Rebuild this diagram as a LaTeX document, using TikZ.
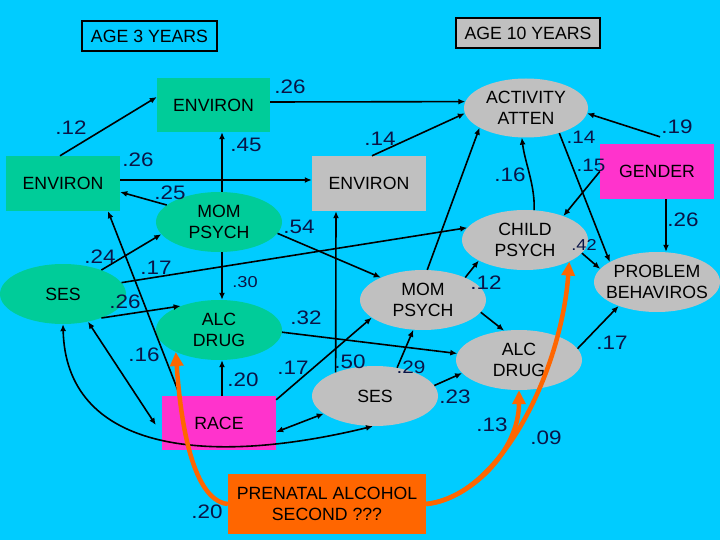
\documentclass[tikz,border=0pt]{standalone}
\usepackage{fontspec}
\setmainfont{Liberation Sans}
\newfontfamily\labfont[FakeStretch=1.15]{Liberation Sans}
\usetikzlibrary{shapes.geometric,arrows.meta}
\definecolor{bg}{RGB}{0,204,255}
\definecolor{grn}{RGB}{0,204,153}
\definecolor{gry}{RGB}{192,192,192}
\definecolor{mag}{RGB}{255,51,204}
\definecolor{org}{RGB}{255,102,0}
\definecolor{lbl}{RGB}{10,20,70}
\newcommand{\nfont}{\fontsize{17.7}{21}\selectfont}
\newcommand{\lfont}{\labfont\fontsize{19.5}{20}\selectfont}
\newcommand{\mfont}{\labfont\fontsize{18}{19}\selectfont}
\newcommand{\sfont}{\labfont\fontsize{15.8}{17}\selectfont}
\begin{document}
\begin{tikzpicture}[x=1pt,y=-1pt,
 rbox/.style={rectangle, inner sep=0pt, align=center, font=\nfont, minimum width=114pt, minimum height=55pt},
 ell/.style={ellipse, inner sep=0pt, align=center, font=\nfont, minimum width=126pt, minimum height=60pt},
 conn/.style={line width=1.6pt, -{Latex[length=7pt,width=6pt]}},
 dconn/.style={line width=1.6pt, {Latex[length=7pt,width=6pt]}-{Latex[length=7pt,width=6pt]}},
 oconn/.style={draw=org, line width=4.5pt, -{Triangle[length=14pt,width=13pt]}},
 lab/.style={font=\lfont, text=lbl, inner sep=0pt},
 mlab/.style={font=\mfont, text=lbl, inner sep=0pt},
 slab/.style={font=\sfont, text=lbl, inner sep=0pt}]
\fill[bg] (0,0) rectangle (720,540);
\useasboundingbox (0,0) rectangle (720,540);

% nodes
\node[rbox, draw, line width=1.3pt, fill=bg, minimum width=135pt, minimum height=30pt] (age3) at (149.5,36) {AGE 3 YEARS};
\node[rbox, draw, line width=1.3pt, fill=gry, minimum width=144pt, minimum height=30pt] (age10) at (528,33) {AGE 10 YEARS};
\node[rbox, fill=grn, minimum width=113pt, minimum height=54pt] (envT) at (213.5,105) {ENVIRON};
\node[rbox, fill=grn] (envL) at (63,183.5) {ENVIRON};
\node[ell, fill=grn] (momG) at (219,222) {MOM\\PSYCH};
\node[ell, fill=grn] (sesG) at (63,294) {SES};
\node[ell, fill=grn] (alcG) at (219,330) {ALC\\DRUG};
\node[rbox, fill=mag, minimum height=54pt] (race) at (219,423) {RACE};
\node[rbox, fill=org, minimum width=198pt, minimum height=60pt] (pren) at (327,504) {PRENATAL ALCOHOL\\SECOND ???};
\node[rbox, fill=gry] (envR) at (369,183.5) {ENVIRON};
\node[ell, fill=gry, minimum width=124pt, minimum height=59pt] (act) at (526,108) {ACTIVITY\\ATTEN};
\node[rbox, fill=mag] (gender) at (657,171.5) {GENDER};
\node[ell, fill=gry] (child) at (525,240) {CHILD\\PSYCH};
\node[ell, fill=gry, inner xsep=-8pt] (prob) at (657,282) {PROBLEM\\BEHAVIROS};
\node[ell, fill=gry] (momR) at (423,300) {MOM\\PSYCH};
\node[ell, fill=gry] (alcR) at (519,360) {ALC\\DRUG};
\node[ell, fill=gry] (sesR) at (375,396) {SES};

% black connectors
\draw[conn] ([xshift=-3pt]envL.north) -- ([yshift=8pt]envT.west);
\draw[conn] ([yshift=3pt]envT.east) -- (act.174);
\draw[conn] ([xshift=3pt]momG.north) -- ([xshift=8.5pt]envT.south);
\draw[conn] ([yshift=3.5pt]envL.east) -- ([yshift=3.5pt]envR.west);
\draw[conn] (momG.162) -- ([yshift=-8.5pt]envL.east);
\draw[conn] (sesG.32) -- (momG.192);
\draw[conn] (sesG.11) -- (child.168);
\draw[conn] (sesG.-32) -- (alcG.148);
\draw[conn] ([xshift=-39pt]race.north) -- ([xshift=45pt]envL.south);
\draw[conn] ([xshift=3pt]momG.south) -- ([xshift=3pt]alcG.north);
\draw[conn] ([xshift=3pt]race.north) -- ([xshift=3pt]alcG.south);
\draw[conn] (momG.-11) -- (momR.152);
\draw[conn] (alcG.-2) -- (alcR.174);
\draw[conn] ([yshift=-4pt]race.north east) -- (momR.199);
\draw[dconn] ([yshift=-9pt]race.east) -- (sesR.199);
\draw[conn] (sesR.149) -- ([xshift=-33pt]envR.south);
\draw[conn] (sesR.52) -- (momR.252);
\draw[conn] (sesR.10) -- (alcR.193);
\draw[conn] (momR.-12) -- (alcR.117);
\draw[conn] (momR.28) -- (child.204);
\draw[conn] (momR.82) -- (act.203);
\draw[conn] ([xshift=3pt]envR.north) -- (act.185);
\draw[conn] (child.73) .. controls +(1,-25) and +(3,25) .. (act.262);
\draw[conn] (act.-37) -- (prob.157);
\draw[conn] ([xshift=3pt,yshift=7pt]gender.north) -- (act.-5);
\draw[conn] (gender.west) -- (child.32);
\draw[conn] ([xshift=9pt]gender.south) -- ([xshift=9pt]prob.north);
\draw[conn] (child.-13) -- (prob.167);
\draw[conn] (alcR.11) -- (prob.212);
\draw[dconn] (sesG.-48) -- ([xshift=-6pt,yshift=-2pt]race.west);
\draw[dconn] (sesG.south) .. controls +(3,124) and +(-173,42) .. ([xshift=-2pt]sesR.south);

% orange connectors
\draw[oconn] (pren.west) .. controls +(-38,-4) and +(4,58) .. (alcG.207);
\draw[oconn] (pren.east) .. controls +(45,-5) and +(0,60) .. (alcR.south);
\draw[oconn] (pren.east) .. controls +(74,-7) and +(-8,110) .. (child.-26);

% labels
\node[lab] (l1) at (71,128) {.12};
\node[lab] (l2) at (290,87) {.26};
\node[lab] (l3) at (246,145) {.45};
\node[lab] (l4) at (138,160) {.26};
\node[lab] (l5) at (170,193) {.25};
\node[lab] (l6) at (100,257) {.24};
\node[lab] (l7) at (156,268) {.17};
\node[lab] (l8) at (125,302) {.26};
\node[lab] (l9) at (144,355) {.16};
\node[slab] (l10) at (245,282) {.30};
\node[lab] (l11) at (243,380) {.20};
\node[lab] (l12) at (299,227) {.54};
\node[lab] (l13) at (306,318) {.32};
\node[lab] (l14) at (293,368) {.17};
\node[lab] (l15) at (350,362) {.50};
\node[mlab] (l16) at (411,367) {.29};
\node[lab] (l17) at (455,397) {.23};
\node[lab] (l18) at (486,283) {.12};
\node[lab] (l19) at (380,139) {.14};
\node[lab] (l20) at (510,175) {.16};
\node[mlab] (l21) at (581,137) {.14};
\node[lab] (l22) at (677,127) {.19};
\node[mlab] (l23) at (591,165) {.15};
\node[lab] (l24) at (683,220) {.26};
\node[slab] (l25) at (584,245) {.42};
\node[lab] (l26) at (612,343) {.17};
\node[lab] (l27) at (492,425) {.13};
\node[lab] (l28) at (546,438) {.09};
\node[lab] (l29) at (207,512) {.20};
\end{tikzpicture}
\end{document}
